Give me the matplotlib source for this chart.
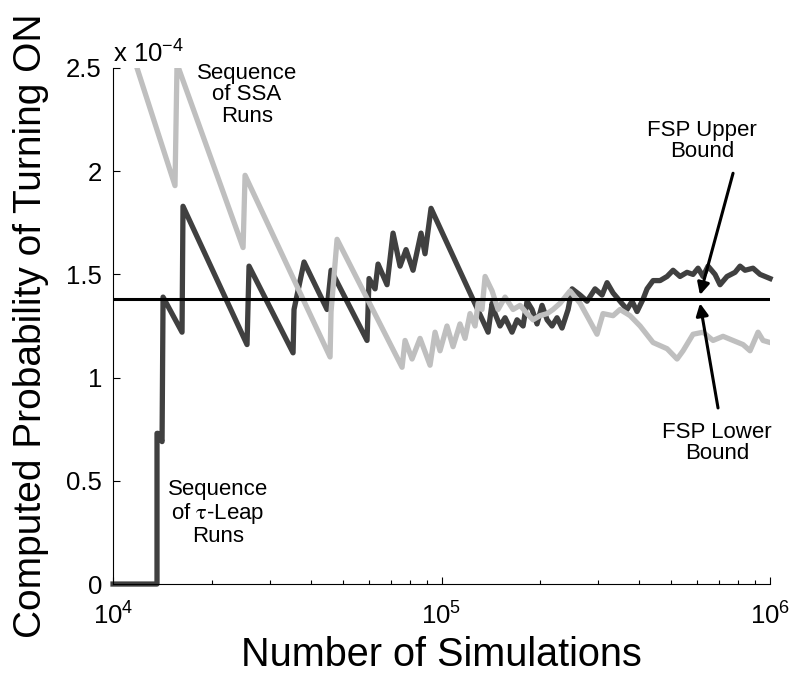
import numpy as np
import matplotlib.pyplot as plt
from matplotlib.ticker import LogLocator, NullFormatter

plt.rcParams['font.family'] = ['Liberation Sans', 'DejaVu Sans']
plt.rcParams['mathtext.fontset'] = 'custom'
plt.rcParams['mathtext.rm'] = 'Liberation Sans'
plt.rcParams['mathtext.it'] = 'Liberation Sans:italic'

# probabilities in units of 1e-4
tau_n = [10000, 13610, 13610, 13710, 14100, 14200, 16220, 16330, 25580, 25940,
         35320, 35560, 38150, 44820, 46100, 59320, 60160, 62750, 64080, 68250,
         71180, 74770, 77970, 81900, 86620, 89070, 92900, 138600, 142500, 145500,
         150700, 156100, 163900, 169800, 177100, 182100, 188600, 195300, 202300, 209600,
         217000, 224700, 232700, 242800, 249700, 264100, 277300, 293300, 308100, 319100,
         332800, 349500, 367100, 380200, 393700, 410600, 422300, 440500, 462600, 485900,
         506800, 532100, 558800, 582900, 603700, 625200, 647600, 680100, 704400, 739700,
         782500, 810400, 839200, 887500, 932400, 1000000]
tau_p = [0, 0, 0.73, 0.73, 0.69, 1.39, 1.22, 1.83, 1.16, 1.54,
         1.12, 1.33, 1.56, 1.33, 1.52, 1.18, 1.48, 1.43, 1.55, 1.45,
         1.70, 1.54, 1.62, 1.52, 1.70, 1.60, 1.82, 1.22, 1.36, 1.31,
         1.25, 1.29, 1.22, 1.28, 1.25, 1.37, 1.33, 1.26, 1.35, 1.28,
         1.25, 1.29, 1.24, 1.33, 1.43, 1.40, 1.37, 1.43, 1.40, 1.46,
         1.41, 1.37, 1.33, 1.37, 1.32, 1.38, 1.43, 1.47, 1.47, 1.49,
         1.52, 1.49, 1.51, 1.50, 1.53, 1.49, 1.54, 1.50, 1.45, 1.49,
         1.51, 1.54, 1.52, 1.53, 1.50, 1.48]

ssa_n = [11270, 11830, 15440, 15660, 24880, 25230, 45780, 46100, 48080, 75830,
         77430, 81330, 86020, 92260, 95550, 98940, 103900, 108400, 113800, 117900,
         122100, 126500, 129200, 132800, 135700, 142500, 148600, 156100, 165100, 173400,
         182100, 189900, 199400, 209600, 218500, 229500, 246200, 264100, 279300, 297400,
         310100, 332800, 349500, 374900, 402200, 440500, 485900, 521200, 543600, 582900,
         625200, 670600, 719300, 771600, 827700, 869200, 919400, 952100, 1000000]
ssa_p = [2.61, 2.50, 1.93, 2.52, 1.63, 1.98, 1.10, 1.32, 1.67, 1.05,
         1.18, 1.09, 1.19, 1.06, 1.22, 1.13, 1.25, 1.15, 1.26, 1.19,
         1.31, 1.25, 1.36, 1.33, 1.49, 1.42, 1.33, 1.39, 1.33, 1.35,
         1.31, 1.28, 1.30, 1.31, 1.33, 1.36, 1.42, 1.36, 1.29, 1.21,
         1.31, 1.30, 1.33, 1.30, 1.25, 1.17, 1.14, 1.09, 1.13, 1.21,
         1.22, 1.18, 1.20, 1.18, 1.16, 1.13, 1.22, 1.18, 1.17]

fsp_bound = 1.38

fig = plt.figure(figsize=(7.91, 6.73), dpi=100)
ax = fig.add_axes([0.1429, 0.1322, 0.8306, 0.7668])

ax.plot(tau_n, tau_p, color='#404040', lw=3.8, clip_on=False, zorder=2)
ax.plot(ssa_n, ssa_p, color='#bfbfbf', lw=3.8, zorder=3)
ax.axhline(fsp_bound, color='black', lw=2.2, zorder=4)

ax.set_xscale('log')
ax.set_xlim(1e4, 1e6)
ax.set_ylim(0, 2.5)
ax.set_yticks([0, 0.5, 1, 1.5, 2, 2.5])
ax.set_yticklabels(['0', '0.5', '1', '1.5', '2', '2.5'])
ax.xaxis.set_minor_locator(LogLocator(base=10, subs=np.arange(2, 10)))
ax.xaxis.set_minor_formatter(NullFormatter())

for s in ['top', 'right']:
    ax.spines[s].set_visible(False)
for s in ['left', 'bottom']:
    ax.spines[s].set_linewidth(0.8)

ax.tick_params(which='major', direction='in', length=5, width=0.8,
               labelsize=18.5)
ax.tick_params(axis='y', which='major', pad=8)
ax.tick_params(axis='x', which='major', pad=13)
ax.tick_params(which='minor', direction='in', length=3, width=0.8)

ax.text(0, 1.0, r'x 10$^{-4}$', transform=ax.transAxes, fontsize=18.5,
        ha='left', va='bottom')

ax.set_xlabel('Number of Simulations', fontsize=28.5, labelpad=5)
ax.set_ylabel('Computed Probability of Turning ON', fontsize=28, labelpad=12)

ax.text(25580, 2.37, 'Sequence\nof SSA\nRuns', fontsize=16,
        ha='center', va='center', linespacing=1.05)
ax.text(20870, 0.344, 'Sequence\nof $\\mathrm{\\tau}$-Leap\nRuns', fontsize=16,
        ha='center', va='center', linespacing=1.05, math_fontfamily='stix')

ax.text(621000, 2.146, 'FSP Upper\nBound', fontsize=16,
        ha='center', va='center', linespacing=1.05)
ax.text(690000, 0.683, 'FSP Lower\nBound', fontsize=16,
        ha='center', va='center', linespacing=1.05)
arrow = dict(arrowstyle='-|>', color='black', lw=2.2,
             mutation_scale=18, shrinkA=0, shrinkB=0)
ax.annotate('', xy=(612000, 1.40), xytext=(771600, 1.99), arrowprops=arrow)
ax.annotate('', xy=(612000, 1.36), xytext=(694500, 0.853), arrowprops=arrow)

fig.savefig('out.png', dpi=100)
